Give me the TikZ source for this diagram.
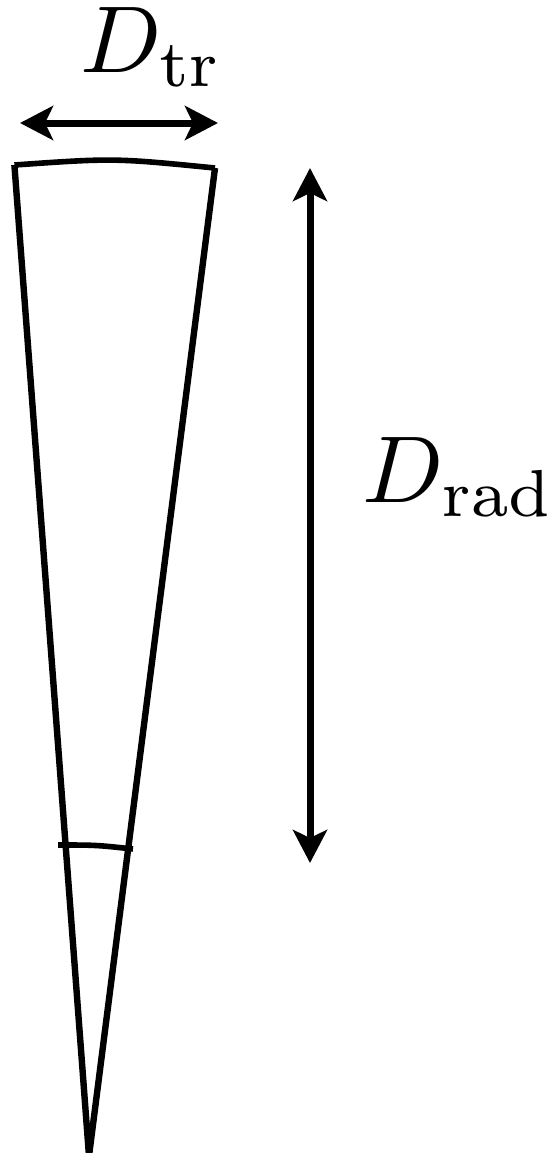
\documentclass[tikz,border=0pt]{standalone}
\usetikzlibrary{arrows.meta}
\newcommand{\biglab}[1]{\scalebox{4.75}{#1}}
\begin{document}
\begin{tikzpicture}[x=0.5pt,y=-0.5pt,
  wedgeline/.style={line width=3.2pt,line join=miter},
  arcline/.style={line width=2.8pt},
  dimarrow/.style={line width=3.5pt,{Stealth[length=16.5pt,width=17pt,inset=4pt]}-{Stealth[length=16.5pt,width=17pt,inset=4pt]}},
  lab/.style={inner sep=0pt,anchor=base west}]
\useasboundingbox (0,0) rectangle (552,1153);
\coordinate (tl) at (14.4,165);
\coordinate (tr) at (215,168);
\coordinate (apex) at (89,1156);
\coordinate (bl) at (58,845);
\coordinate (br) at (133,849);
\coordinate (hl) at (20,123);
\coordinate (hr) at (218,123);
\coordinate (vt) at (310,168);
\coordinate (vb) at (310,863);
\draw[wedgeline] (tl) -- (apex) -- (tr);
\draw[arcline] (tl) .. controls (114,158) .. (tr);
\draw[arcline] (bl) .. controls (96,845) .. (br);
\draw[dimarrow] (hl) -- (hr);
\draw[dimarrow] (vt) -- (vb);
\node[lab] (dtr) at (80,72) {\biglab{$D_{\mathrm{tr}}$}};
\node[lab] (drad) at (362,502) {\biglab{$D_{\mathrm{rad}}$}};
\end{tikzpicture}
\end{document}
